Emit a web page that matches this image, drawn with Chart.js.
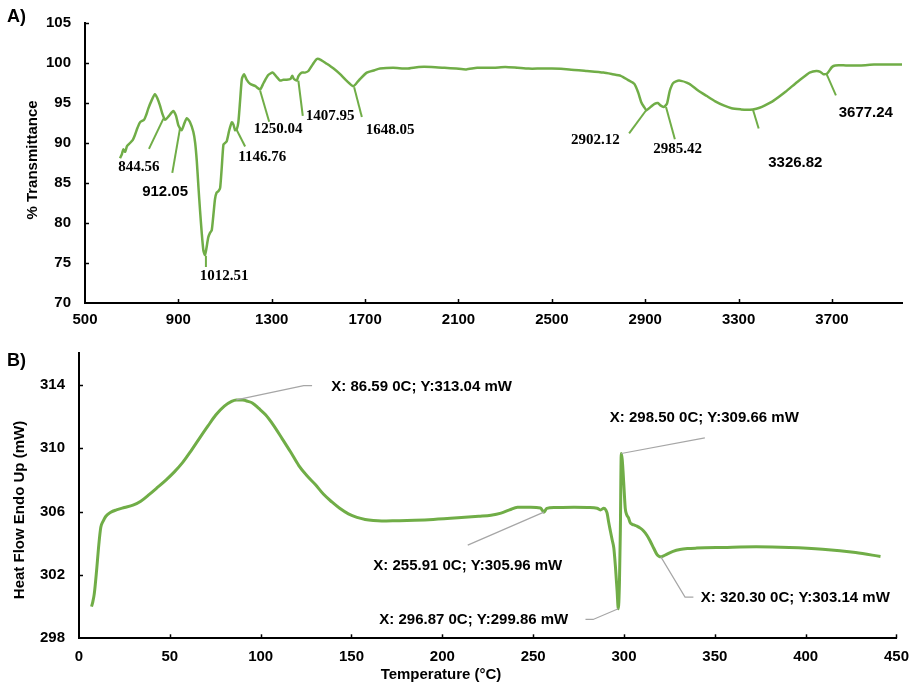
<!DOCTYPE html>
<html><head><meta charset="utf-8">
<script src="https://cdn.jsdelivr.net/npm/chart.js@4.4.1/dist/chart.umd.min.js"></script>
<style>
html,body{margin:0;padding:0;background:#fff;}
#wrap{position:relative;width:919px;height:687px;overflow:hidden;}
canvas{position:absolute;left:0;}
</style></head><body>
<div id="wrap">
<canvas id="cA" width="919" height="330" style="top:0"></canvas>
<canvas id="cB" width="919" height="357" style="top:330px"></canvas>
</div>
<script>
// ---------- Panel A: FTIR spectrum ----------
const wavenumber = [650,658,664,672,680,693,705,714,725,736,753,762,771,785,800,810,821,832,843,860,878,890,900,914,925,936,950,964,972,979,986,993,1000,1007,1014,1020,1028,1036,1043,1050,1057,1064,1072,1079,1086,1093,1100,1107,1118,1129,1136,1143,1150,1157,1165,1172,1181,1193,1207,1230,1250,1265,1285,1304,1320,1336,1350,1364,1380,1388,1395,1407,1415,1428,1442,1457,1475,1493,1510,1536,1565,1593,1620,1650,1675,1707,1740,1764,1820,1880,1930,1985,2040,2090,2133,2180,2250,2300,2353,2400,2450,2500,2574,2650,2721,2760,2795,2825,2853,2870,2883,2895,2905,2915,2927,2940,2954,2965,2979,2993,3005,3020,3045,3089,3125,3162,3200,3236,3270,3310,3335,3361,3390,3413,3450,3501,3550,3590,3604,3633,3650,3663,3680,3700,3714,3760,3825,3880,3940,4000];
const transmittance = [88.1,88.6,89.2,88.9,89.6,90.0,90.4,91.0,91.9,92.6,92.9,93.5,94.3,95.3,96.1,95.6,94.7,93.6,92.9,93.4,94.0,93.4,92.2,91.6,92.4,93.1,92.6,91.4,90.0,87.7,84.5,81.5,78.8,76.6,76.0,76.8,78.2,78.8,79.1,81.0,83.0,83.8,84.0,84.4,87.0,89.8,90.0,90.2,91.6,92.6,92.3,91.6,91.7,92.6,95.5,98.0,98.6,97.9,97.4,97.1,96.7,97.5,98.5,98.8,98.3,97.8,97.9,97.9,98.0,98.4,98.0,97.8,98.4,98.8,98.8,99.0,99.8,100.5,100.4,99.9,99.3,98.6,97.8,97.1,97.9,98.8,99.1,99.3,99.4,99.3,99.5,99.5,99.4,99.3,99.2,99.4,99.4,99.5,99.4,99.3,99.3,99.3,99.2,99.0,98.8,98.6,98.4,97.9,97.4,96.3,95.1,94.5,94.1,94.3,94.6,94.9,95.0,94.7,94.5,94.9,96.5,97.5,97.8,97.4,96.6,95.9,95.2,94.7,94.35,94.2,94.15,94.2,94.4,94.7,95.3,96.4,97.6,98.5,98.8,99.0,98.9,98.6,98.7,99.5,99.7,99.7,99.7,99.8,99.8,99.8];
const ftirXTicks = [500,900,1300,1700,2100,2500,2900,3300,3700];
const ftirYTicks = [70,75,80,85,90,95,100,105];
const ftirPeakLabels = ['844.56','912.05','1012.51','1146.76','1250.04','1407.95','1648.05','2902.12','2985.42','3326.82','3677.24'];

// ---------- Panel B: DSC curve ----------
const temperature = [6.9,7.6,8.4,9.7,10.9,12.0,13.3,14.8,17.5,20.6,25,29.7,34,38.9,43,48.0,52.5,57.1,61.5,66.2,71,75.4,80,84,86.59,90,93,95.4,99,102.7,107,111.8,116.5,121.0,125.5,130.1,134.5,139.2,143.5,148.3,153,157.5,162,166.6,175,184.8,195,208.6,220,226.8,232.3,237,241.4,248.7,254,255.91,257.5,262,272.5,280,285.2,287.0,288.9,290,290.7,291.6,292.5,293.5,294.4,295.3,296.2,296.87,297.5,298.0,298.5,299.0,299.5,300.1,300.7,301.5,302.5,303.4,304.4,305.5,307.1,309,310.8,312.6,314.4,316.3,318.1,319.2,320.3,321.8,323.5,327,330.8,335,340.0,354.6,372.8,391.0,409.3,427.5,441.2];
const heatFlow = [300.0,300.3,300.8,302.3,303.9,305.0,305.4,305.7,305.95,306.1,306.25,306.4,306.65,307.1,307.5,308.0,308.5,309.1,309.8,310.6,311.4,312.1,312.65,312.95,313.04,313.03,312.95,312.85,312.5,312.1,311.45,310.6,309.75,308.9,308.25,307.7,307.1,306.6,306.2,305.85,305.63,305.5,305.43,305.4,305.42,305.45,305.5,305.6,305.7,305.77,305.9,306.1,306.27,306.27,306.22,305.96,306.2,306.25,306.27,306.25,306.2,306.1,306.2,306.1,305.9,305.3,304.77,304.2,303.7,302.5,301.0,299.86,301.5,304.8,309.66,309.3,308.5,307.3,306.2,305.8,305.6,305.3,305.2,305.15,305.08,304.95,304.77,304.5,304.14,303.7,303.3,303.18,303.14,303.2,303.3,303.48,303.6,303.66,303.69,303.73,303.77,303.73,303.62,303.41,303.16];
const dscXTicks = [0,50,100,150,200,250,300,350,400,450];
const dscYTicks = [298,302,306,310,314];
const dscPointLabels = ['X: 86.59 0C; Y:313.04 mW','X: 298.50 0C; Y:309.66 mW','X: 255.91 0C; Y:305.96 mW','X: 296.87 0C; Y:299.86 mW','X: 320.30 0C; Y:303.14 mW'];

// ---------- styling / layout ----------
const GREEN = '#70AD47';
const SANS = '"Liberation Sans", Arial, sans-serif';
const SERIF = '"Liberation Serif", "Times New Roman", serif';

// callout geometry for panel A, in data units (wavenumber, %T)
const ftirCallouts = [
  {line:[[774,89.27],[836,93.05]], at:[731,86.96], serif:true},
  {line:[[874,86.26],[907,91.82]], at:[843,83.88], serif:false},
  {line:[[1018,75.9],[1018,74.5]], at:[1096,73.38], serif:true},
  {line:[[1150,91.62],[1186,89.56]], at:[1259,88.2], serif:true},
  {line:[[1250,96.56],[1289,92.65]], at:[1327,91.72], serif:true},
  {line:[[1414,97.8],[1433,93.39]], at:[1550,93.39], serif:true},
  {line:[[1653,96.97],[1686,93.26]], at:[1807,91.66], serif:true},
  {line:[[2904,94.09],[2831,91.2]], at:[2686,90.42], serif:true},
  {line:[[2989,94.5],[3027,90.46]], at:[3039,89.19], serif:true},
  {line:[[3361,94.22],[3386,91.82]], at:[3543,87.52], serif:false},
  {line:[[3677,98.61],[3717,95.95]], at:[3845,93.76], serif:false}
];
// callout geometry for panel B, in data units (°C, mW)
const dscCallouts = [
  {line:[[86.59,313.04],[123.7,313.94],[128.3,313.94]], at:[138.9,313.875]},
  {line:[[298.5,309.66],[344.5,310.64]], at:[292.2,311.89]},
  {line:[[255.91,305.96],[214.0,303.88]], at:[162.0,302.58]},
  {line:[[296.87,299.86],[283.0,299.19],[278.8,299.19]], at:[165.3,299.14]},
  {line:[[320.3,303.14],[333.6,300.6],[338.2,300.6]], at:[342.3,300.56]}
];

function pts(xs, ys){ return xs.map((x,i)=>({x:x, y:ys[i]})); }

function tickPlugin(len){
  return {
    id:'innerTicks',
    afterDraw(chart){
      const ctx = chart.ctx, sx = chart.scales.x, sy = chart.scales.y, a = chart.chartArea;
      ctx.save(); ctx.strokeStyle = '#000'; ctx.lineWidth = 1.5;
      sx.ticks.forEach(t=>{ if (t.value === sx.min) return; const p = Math.round(sx.getPixelForValue(t.value))+0.5;
        ctx.beginPath(); ctx.moveTo(p, a.bottom); ctx.lineTo(p, a.bottom-len); ctx.stroke(); });
      sy.ticks.forEach(t=>{ if (t.value === sy.min) return; const p = Math.round(sy.getPixelForValue(t.value))+0.5;
        ctx.beginPath(); ctx.moveTo(a.left, p); ctx.lineTo(a.left+len, p); ctx.stroke(); });
      ctx.restore();
    }
  };
}

function textPlugin(draw){ return { id:'texts', afterDraw(chart){ const ctx = chart.ctx; ctx.save(); draw(chart, ctx); ctx.restore(); } }; }

function rotatedText(ctx, txt, x, y, font){
  ctx.save(); ctx.translate(x, y); ctx.rotate(-Math.PI/2);
  ctx.font = font; ctx.fillStyle = '#000'; ctx.textAlign = 'center'; ctx.textBaseline = 'middle';
  ctx.fillText(txt, 0, 0); ctx.restore();
}

function scaleOpts(min, max, ticks, fit, padding){
  return {
    type:'linear', min:min, max:max,
    afterBuildTicks: s => { s.ticks = ticks.map(v=>({value:v})); },
    afterFit: fit,
    grid:{display:false, drawTicks:false},
    border:{display:true, color:'#000', width:2},
    ticks:{color:'#000', padding:padding, font:{family:SANS, weight:'bold', size:15}, autoSkip:false, maxRotation:0,
           callback: v => String(v)}
  };
}

// ---------- Chart A ----------
new Chart(document.getElementById('cA'), {
  type:'line',
  data:{datasets:[{data:pts(wavenumber, transmittance), borderColor:GREEN, borderWidth:2.5, pointRadius:0, tension:0.2, fill:false}]},
  options:{
    responsive:false, animation:false, devicePixelRatio:1,
    layout:{padding:{left:0, right:17, top:20, bottom:0}},
    plugins:{legend:{display:false}, tooltip:{enabled:false}},
    scales:{
      x: scaleOpts(500, 4000, ftirXTicks, s=>{ s.height = 27; }, 8),
      y: scaleOpts(70, 105, ftirYTicks, s=>{ s.width = 85; }, 14)
    }
  },
  plugins:[tickPlugin(4), textPlugin((chart, ctx)=>{
    const sx = chart.scales.x, sy = chart.scales.y;
    ctx.fillStyle = '#000';
    ctx.font = 'bold 18px ' + SANS; ctx.textAlign = 'left'; ctx.textBaseline = 'middle';
    ctx.fillText('A)', 7, 17);
    rotatedText(ctx, '% Transmittance', 33, 160, 'bold 15px ' + SANS);
    ftirCallouts.forEach((c, i)=>{
      ctx.strokeStyle = GREEN; ctx.lineWidth = 2;
      ctx.beginPath();
      c.line.forEach((p, k)=>{ const X = sx.getPixelForValue(p[0]), Y = sy.getPixelForValue(p[1]); k ? ctx.lineTo(X, Y) : ctx.moveTo(X, Y); });
      ctx.stroke();
      ctx.font = 'bold 15px ' + (c.serif ? SERIF : SANS);
      ctx.textAlign = 'center'; ctx.textBaseline = 'middle'; ctx.fillStyle = '#000';
      ctx.fillText(ftirPeakLabels[i], sx.getPixelForValue(c.at[0]), sy.getPixelForValue(c.at[1]));
    });
  })]
});

// ---------- Chart B ----------
new Chart(document.getElementById('cB'), {
  type:'line',
  data:{datasets:[{data:pts(temperature, heatFlow), borderColor:GREEN, borderWidth:3, pointRadius:0, cubicInterpolationMode:'monotone', fill:false}]},
  options:{
    responsive:false, animation:false, devicePixelRatio:1,
    layout:{padding:{left:0, right:18, top:20.7, bottom:0}},
    plugins:{legend:{display:false}, tooltip:{enabled:false}},
    scales:{
      x: scaleOpts(0, 450, dscXTicks, s=>{ s.height = 48.7; }, 10),
      y: scaleOpts(298, 316, dscYTicks, s=>{ s.width = 79; }, 14)
    }
  },
  plugins:[tickPlugin(4), textPlugin((chart, ctx)=>{
    const sx = chart.scales.x, sy = chart.scales.y;
    ctx.fillStyle = '#000';
    ctx.font = 'bold 18px ' + SANS; ctx.textAlign = 'left'; ctx.textBaseline = 'middle';
    ctx.fillText('B)', 7, 31);
    rotatedText(ctx, 'Heat Flow Endo Up (mW)', 20, 180, 'bold 15px ' + SANS);
    ctx.font = 'bold 15px ' + SANS; ctx.textAlign = 'center'; ctx.textBaseline = 'middle';
    ctx.fillText('Temperature (\u00B0C)', 441, 345);
    dscCallouts.forEach((c, i)=>{
      ctx.strokeStyle = '#A6A6A6'; ctx.lineWidth = 1.2;
      ctx.beginPath();
      c.line.forEach((p, k)=>{ const X = sx.getPixelForValue(p[0]), Y = sy.getPixelForValue(p[1]); k ? ctx.lineTo(X, Y) : ctx.moveTo(X, Y); });
      ctx.stroke();
      ctx.font = 'bold 15px ' + SANS; ctx.textAlign = 'left'; ctx.textBaseline = 'middle'; ctx.fillStyle = '#000';
      ctx.fillText(dscPointLabels[i], sx.getPixelForValue(c.at[0]), sy.getPixelForValue(c.at[1]));
    });
  })]
});
</script>
</body></html>
